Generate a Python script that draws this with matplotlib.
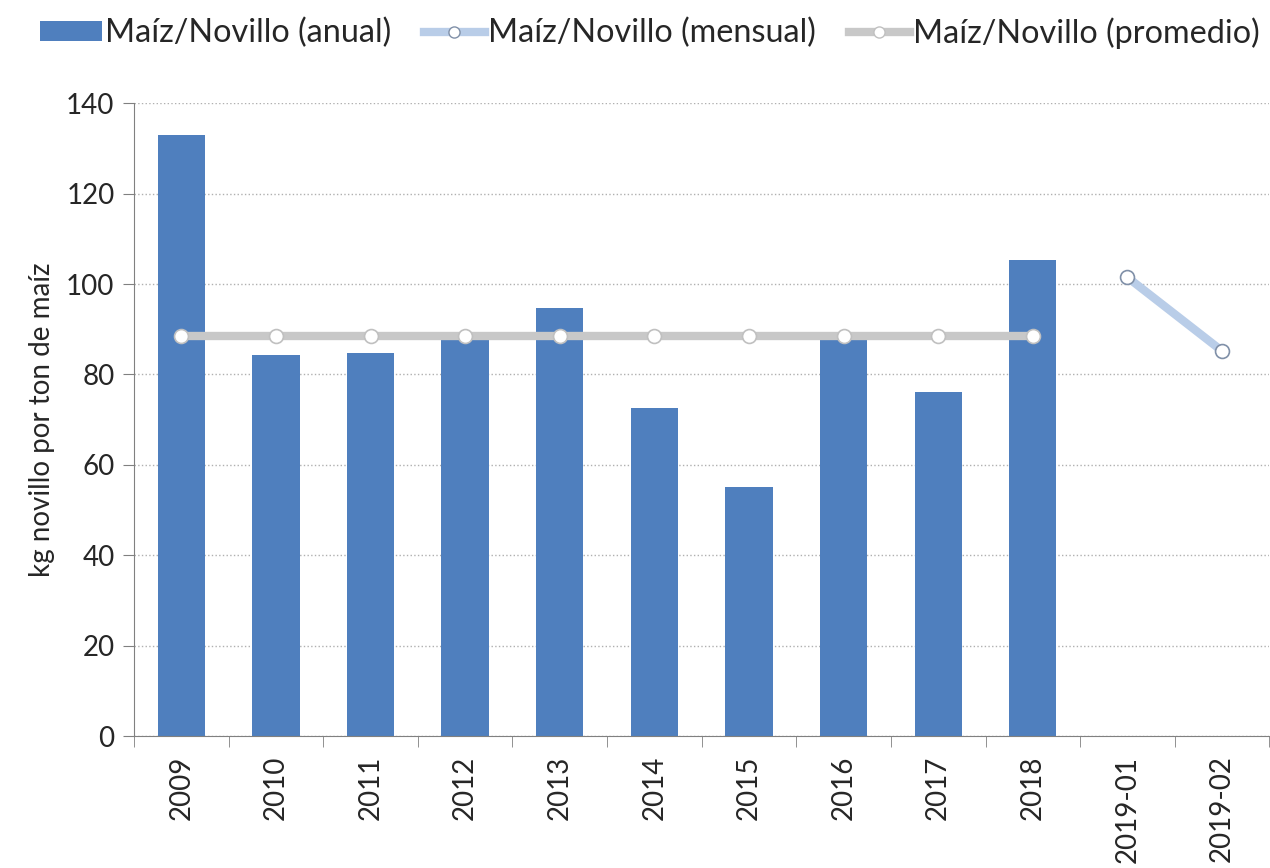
import matplotlib
matplotlib.use('Agg')
import matplotlib.pyplot as plt
from matplotlib.lines import Line2D
from matplotlib.patches import Patch

categories = ['2009', '2010', '2011', '2012', '2013', '2014', '2015', '2016',
              '2017', '2018', '2019-01', '2019-02']
anual = [133.0, 84.3, 84.7, 88.0, 94.7, 72.6, 55.1, 88.0, 76.1, 105.3]
mensual = [101.5, 85.2]
promedio = 88.5

plt.rcParams['font.family'] = ['Lato', 'DejaVu Sans']
txt = '#262626'

fig = plt.figure(figsize=(12.7, 8.68), dpi=100, facecolor='white')
ax = fig.add_axes([0.1055, 0.152, 0.894, 0.729])

x_bar = list(range(len(anual)))
x_mens = [len(anual) + i for i in range(len(mensual))]

ax.bar(x_bar, anual, width=0.5, color='#4F7FBE', zorder=2)
ax.plot(x_bar, [promedio] * len(x_bar), color='#C8C8C8', linewidth=6,
        marker='o', markersize=10, markerfacecolor='white',
        markeredgecolor='#C0C0C0', markeredgewidth=1.2, zorder=3)
ax.plot(x_mens, mensual, color='#B9CDE8', linewidth=6,
        marker='o', markersize=10, markerfacecolor='white',
        markeredgecolor='#8090A8', markeredgewidth=1.2, zorder=3)

ax.set_xlim(-0.5, len(categories) - 0.5)
ax.set_ylim(0, 140)
ax.set_yticks(range(0, 141, 20))
ax.yaxis.grid(True, linestyle=':', color='#B0B0B0', linewidth=1)
ax.set_axisbelow(True)

ax.set_xticks(range(len(categories)))
ax.set_xticklabels(categories, rotation=90, fontsize=20, color=txt)
ax.set_xticks([i - 0.5 for i in range(len(categories) + 1)], minor=True)
ax.tick_params(axis='x', which='major', length=0, pad=14)
ax.tick_params(axis='x', which='minor', length=8, color='#808080', direction='out')
ax.tick_params(axis='y', labelsize=20, labelcolor=txt, length=8, color='#808080', pad=6)

for s in ['top', 'right']:
    ax.spines[s].set_visible(False)
for s in ['left', 'bottom']:
    ax.spines[s].set_color('#808080')

ax.set_ylabel('kg novillo por ton de maíz', fontsize=20, color=txt, labelpad=8)

handles = [
    Patch(facecolor='#4F7FBE', label='Maíz/Novillo (anual)'),
    Line2D([], [], color='#B9CDE8', linewidth=6, marker='o', markersize=8,
           markerfacecolor='white', markeredgecolor='#8090A8',
           label='Maíz/Novillo (mensual)'),
    Line2D([], [], color='#C8C8C8', linewidth=6, marker='o', markersize=8,
           markerfacecolor='white', markeredgecolor='#C0C0C0',
           label='Maíz/Novillo (promedio)'),
]
fig.legend(handles=handles, loc='upper center', bbox_to_anchor=(0.512, 1.014),
           ncol=3, frameon=False, fontsize=23.3, handlelength=1.9,
           handleheight=0.55, handletextpad=0.1, columnspacing=1.0,
           labelcolor=txt)

fig.savefig('out.png', dpi=100, facecolor='white')
